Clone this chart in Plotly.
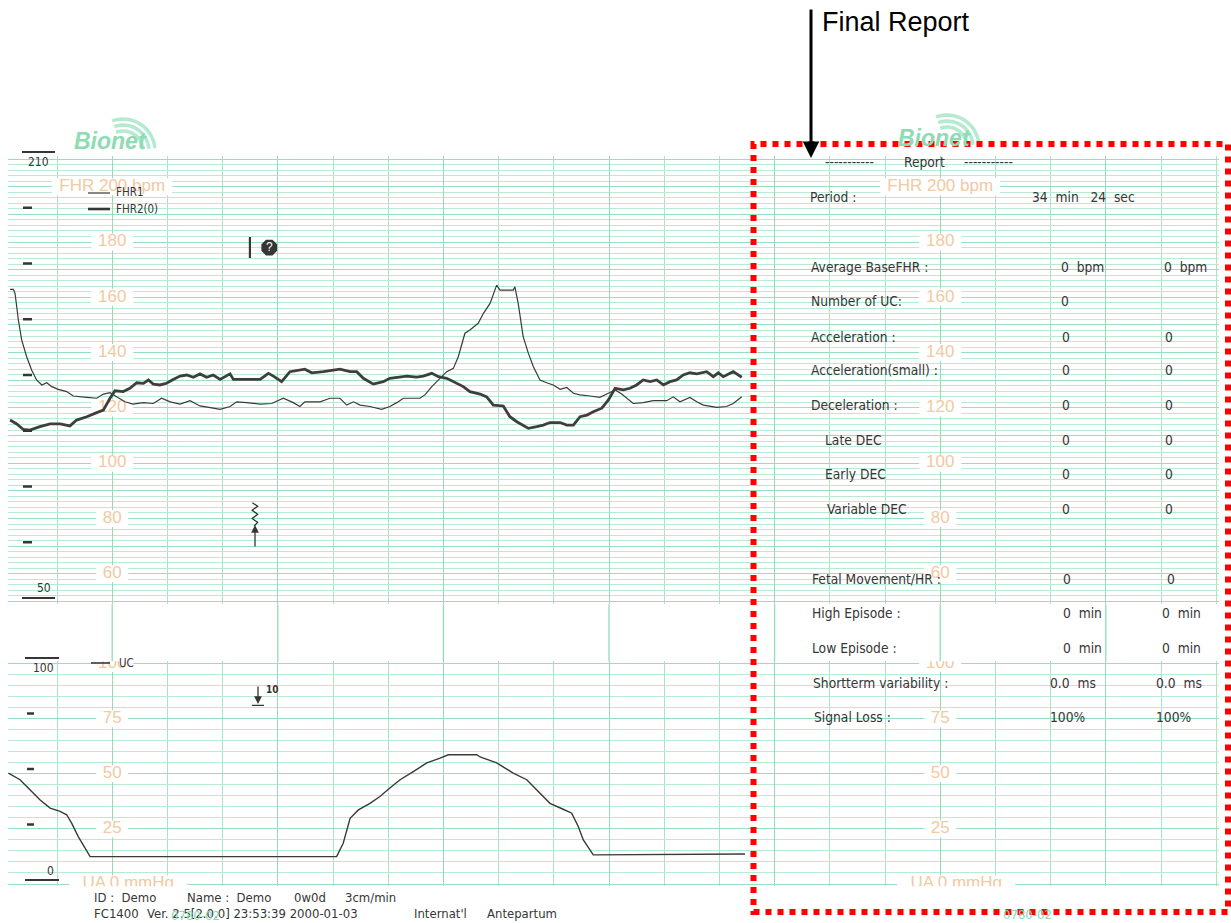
import math
import plotly.graph_objects as go

W, H = 1231, 923

# ---------------- data read off the strip ----------------
# time in seconds (1 small vertical division = 20 s at 3 cm/min), values on the paper scale
fhr1_time = [3.0, 4.2, 4.8, 6.0, 7.2, 9.0, 10.8, 12.6, 14.5, 16.3,
             18.1, 20.5, 23.5, 25.9, 30.8, 34.4, 36.8, 39.2, 41.6, 44.6,
             47.6, 51.3, 54.9, 57.9, 61.0, 64.6, 68.2, 71.8, 76.6, 79.1,
             82.7, 85.1, 88.7, 93.6, 97.8, 102.0, 105.6, 108.0, 109.8, 115.3,
             118.9, 122.5, 125.0, 127.4, 129.8, 133.4, 137.6, 140.6, 143.1, 145.5,
             151.5, 153.3, 155.8, 158.8, 161.2, 163.6, 165.4, 167.8, 169.6, 172.6,
             174.5, 176.9, 179.3, 180.5, 185.3, 185.9, 187.1, 188.9, 190.8, 192.6,
             195.0, 197.4, 199.8, 202.3, 204.7, 207.1, 209.5, 213.1, 216.7, 219.2,
             222.2, 224.6, 227.0, 228.8, 232.4, 236.0, 240.9, 243.3, 245.7, 249.3,
             251.8, 254.2, 259.0, 262.6, 265.0, 268.1]
fhr1_bpm = [162.9, 162.9, 161.4, 151.8, 144.6, 138.5, 133.7, 130.1, 128.3, 129.1,
            127.7, 126.7, 125.9, 124.3, 123.8, 123.5, 125.0, 125.5, 124.0, 122.2,
            121.4, 121.9, 121.6, 123.5, 122.2, 121.4, 122.6, 120.7, 119.9, 119.5,
            120.5, 122.2, 121.9, 121.4, 121.6, 123.5, 121.9, 120.5, 122.2, 122.2,
            123.5, 123.5, 121.0, 122.2, 121.0, 120.5, 119.5, 120.5, 121.9, 123.5,
            123.5, 124.7, 127.7, 130.7, 133.1, 134.3, 138.5, 147.0, 148.2, 150.6,
            154.2, 157.8, 164.4, 162.6, 162.6, 163.8, 157.8, 145.8, 139.7, 134.9,
            130.1, 129.1, 128.3, 126.7, 127.4, 125.3, 124.7, 124.3, 123.8, 125.0,
            126.5, 125.0, 123.1, 121.6, 121.9, 122.6, 122.6, 124.0, 122.2, 123.8,
            122.2, 121.0, 120.2, 120.5, 121.6, 124.0]

fhr2_time = [3.0, 5.4, 7.8, 10.2, 13.8, 17.5, 21.1, 24.7, 27.1, 30.8,
             34.4, 36.8, 39.2, 41.0, 44.0, 46.4, 48.9, 51.3, 53.1, 54.9,
             57.3, 59.7, 62.1, 64.6, 67.0, 69.4, 71.8, 74.2, 76.6, 79.1,
             82.7, 83.9, 93.6, 96.6, 98.4, 101.4, 104.4, 109.8, 112.3, 116.5,
             122.5, 126.2, 128.6, 131.0, 134.6, 138.2, 140.6, 144.9, 146.7, 150.3,
             152.7, 155.8, 158.2, 161.2, 163.6, 167.2, 169.6, 173.3, 175.7, 178.1,
             181.7, 184.1, 186.6, 189.0, 190.8, 193.8, 196.2, 198.6, 202.3, 204.7,
             207.1, 209.5, 212.0, 214.3, 217.4, 219.8, 222.2, 225.2, 227.6, 230.0,
             232.4, 234.9, 237.3, 239.7, 242.1, 244.5, 246.9, 249.3, 251.8, 255.4,
             257.8, 259.6, 261.4, 265.0, 268.1]
fhr2_bpm = [115.6, 114.2, 112.2, 112.0, 113.2, 114.2, 114.2, 113.5, 115.6, 116.8,
            118.3, 119.2, 123.5, 126.2, 125.9, 127.1, 129.1, 128.9, 130.1, 128.6,
            128.3, 128.9, 130.3, 131.5, 131.9, 131.1, 132.3, 131.1, 131.9, 130.3,
            132.3, 130.3, 130.3, 132.5, 131.5, 129.5, 133.1, 134.0, 132.7, 133.1,
            134.0, 133.1, 133.1, 130.7, 128.6, 129.5, 130.7, 131.1, 131.5, 131.1,
            131.5, 132.5, 131.3, 130.7, 129.5, 127.7, 125.9, 125.0, 124.0, 121.0,
            120.7, 116.8, 115.0, 113.8, 112.6, 113.2, 113.8, 114.7, 114.7, 113.8,
            113.8, 116.8, 117.4, 118.6, 119.9, 122.9, 127.1, 126.5, 127.1, 128.3,
            130.1, 129.5, 130.1, 128.3, 129.5, 130.1, 131.9, 132.7, 132.3, 133.1,
            131.3, 132.7, 131.3, 133.1, 131.1]

uc_time = [2.4, 6.6, 10.2, 13.8, 17.5, 21.1, 23.5, 25.3, 27.7, 30.1,
           32.0, 121.3, 123.7, 126.2, 129.2, 133.4, 137.0, 140.6, 144.3, 149.1,
           154.0, 158.8, 161.8, 172.1, 173.3, 179.3, 185.3, 190.2, 193.8, 198.6,
           203.4, 206.5, 208.9, 210.7, 214.3, 269.3]
uc_mmhg = [50.3, 47.3, 42.7, 38.2, 34.4, 32.9, 31.4, 27.6, 21.5, 16.2,
           12.4, 12.4, 18.5, 29.8, 33.6, 36.6, 39.7, 43.5, 47.3, 51.0,
           54.9, 57.1, 58.6, 58.6, 57.6, 54.9, 50.3, 47.3, 42.7, 36.6,
           33.9, 32.1, 26.0, 20.0, 13.2, 13.6]

assert len(fhr1_time) == len(fhr1_bpm)
assert len(fhr2_time) == len(fhr2_bpm)
assert len(uc_time) == len(uc_mmhg)

event_time = [91.7]                 # event marks printed on the strip (s)
event_fhr_level = [178.0]           # level of the '?' mark
event_uc_label = ["10"]

fhr_scale_labels = [180, 160, 140, 120, 100, 80, 60]
fhr_scale_top = "FHR 200 bpm"
uc_scale_labels = [100, 75, 50, 25]
uc_scale_bottom = "UA 0 mmHg"
scale_label_times = [40, 340]
fhr_printer_ticks = [210, 190, 170, 150, 130, 110, 90, 70, 50]
uc_printer_ticks = [100, 75, 50, 25, 0]

report_labels = ["Period :", "Average BaseFHR :", "Number of UC:", "Acceleration :",
                 "Acceleration(small) :", "Deceleration :", "Late DEC", "Early DEC",
                 "Variable DEC", "Fetal Movement/HR :", "High Episode :", "Low Episode :",
                 "Shortterm variability :", "Signal Loss :"]
NB = "\u00a0"
report_col1 = ["34" + NB * 2 + "min" + NB * 3 + "24" + NB * 2 + "sec", "0" + NB * 2 + "bpm", "0", "0",
               "0", "0", "0", "0", "0", "0", "0" + NB * 2 + "min", "0" + NB * 2 + "min",
               "0.0" + NB * 2 + "ms", "100%"]
report_col2 = ["", "0" + NB * 2 + "bpm", "", "0", "0", "0", "0", "0", "0", "0",
               "0" + NB * 2 + "min", "0" + NB * 2 + "min", "0.0" + NB * 2 + "ms", "100%"]

footer_line1 = ["ID :" + NB * 2 + "Demo", "Name :" + NB * 2 + "Demo", "0w0d", "3cm/min"]
footer_line2 = ["FC1400", "Ver. 2.5[2.0.0] 23:53:39 2000-01-03", "Internat'l", "Antepartum"]

# ---------------- layout geometry (pixels of the page) ----------------
X0_PX, PX_PER_S = 1.8, 2.76          # t = 0 s position, px per second
FHR_REF_PY, PX_PER_BPM = 242.0, 2.765  # 180 bpm line
UC_ZERO_PY, PX_PER_MM = 884.0, 2.205


def fx(px):
    return px / W


def fy(py):
    return 1 - py / H


def t_of(px):
    return (px - X0_PX) / PX_PER_S


def py_bpm(b):
    return FHR_REF_PY - (b - 180) * PX_PER_BPM


def py_mm(m):
    return UC_ZERO_PY - m * PX_PER_MM


GRID_MINOR = "#b8ebd2"
GRID_MAJOR = "#98dfbd"
VGRID_MINOR = "#a8e5c7"
VGRID_MAJOR = "#92dcb8"
PEACH = "#f1c9a2"
INK = "#363636"
NARROW = "DejaVu Sans Condensed, Liberation Sans Narrow, sans-serif"
ARIAL = "Liberation Sans, Arial, sans-serif"
REP = 13.7

fig = go.Figure()

# ---------- preprinted scale labels (text traces under the recorded traces) ----------
lx, ly, lt = [], [], []
for t in scale_label_times:
    lx.append(t); ly.append(200); lt.append(fhr_scale_top)
    for v in fhr_scale_labels:
        lx.append(t); ly.append(v); lt.append(str(v))
fig.add_trace(go.Scatter(x=lx, y=ly, text=lt, mode="text", xaxis="x", yaxis="y",
                         textfont=dict(family=ARIAL, size=17, color=PEACH),
                         textposition="middle center", hoverinfo="skip"))
ux, uy, utx = [], [], []
UA_SHIFT = 16 / PX_PER_S
for t in scale_label_times:
    for v in uc_scale_labels:
        ux.append(t); uy.append(v); utx.append(str(v))
    ux.append(t + UA_SHIFT); uy.append(0); utx.append(uc_scale_bottom)
fig.add_trace(go.Scatter(x=ux, y=uy, text=utx, mode="text", xaxis="x", yaxis="y2",
                         textfont=dict(family=ARIAL, size=17, color=PEACH),
                         textposition="middle center", hoverinfo="skip"))

# ---------- recorded traces ----------
fig.add_trace(go.Scatter(x=fhr1_time, y=fhr1_bpm, mode="lines", xaxis="x", yaxis="y",
                         line=dict(color="#3a3a3a", width=1.2), name="FHR1"))
fig.add_trace(go.Scatter(x=fhr2_time, y=fhr2_bpm, mode="lines", xaxis="x", yaxis="y",
                         line=dict(color="#3e3e3e", width=2.8), name="FHR2(0)"))
fig.add_trace(go.Scatter(x=uc_time, y=uc_mmhg, mode="lines", xaxis="x", yaxis="y2",
                         line=dict(color="#3a3a3a", width=1.4), name="UC"))

# '?' event mark
q_t = [t + 5.2 for t in event_time]
bar_t = [t - 1.8 for t in event_time]
fig.add_trace(go.Scatter(x=bar_t, y=event_fhr_level, mode="markers", xaxis="x", yaxis="y",
                         marker=dict(symbol="line-ns-open", size=15, color=INK,
                                     line=dict(width=2.2, color=INK))))
fig.add_trace(go.Scatter(x=q_t, y=event_fhr_level, mode="markers+text", xaxis="x", yaxis="y",
                         text=["?"] * len(q_t), textposition="middle center",
                         textfont=dict(family=ARIAL, size=12, color="white"),
                         marker=dict(symbol="octagon", size=17, color=INK)))

shapes = []
# white boxes behind the preprinted labels
for t in scale_label_times:
    items = [(200, fhr_scale_top, 60, t)] + [(v, str(v), 21 if v >= 100 else 16, t) for v in fhr_scale_labels]
    for v, s, hw, tc in items:
        shapes.append(dict(type="rect", xref="x", yref="y", layer="between",
                           x0=tc - hw / PX_PER_S, x1=tc + hw / PX_PER_S,
                           y0=v - 8.5 / PX_PER_BPM, y1=v + 8.5 / PX_PER_BPM,
                           fillcolor="white", line=dict(width=0)))
    items = [(v, 21 if v >= 100 else 16, t) for v in uc_scale_labels] + [(0, 59, t + UA_SHIFT)]
    for v, hw, tc in items:
        shapes.append(dict(type="rect", xref="x", yref="y2", layer="between",
                           x0=tc - hw / PX_PER_S, x1=tc + hw / PX_PER_S,
                           y0=v - 8.5 / PX_PER_MM, y1=v + 8.5 / PX_PER_MM,
                           fillcolor="white", line=dict(width=0)))

# minute lines crossing the gap between the two panels
for k in range(7):
    t = 40 + 60 * k
    px = X0_PX + t * PX_PER_S
    shapes.append(dict(type="line", xref="paper", yref="paper", x0=fx(px), x1=fx(px),
                       y0=fy(py_mm(101)), y1=fy(py_bpm(49)), line=dict(color=VGRID_MAJOR, width=1.3),
                       layer="below"))

# printer scale marks (FHR)
for v in fhr_printer_ticks:
    py = 152 + (210 - v) * 2.7875
    if v in (210, 50):
        shapes.append(dict(type="line", xref="paper", yref="paper", x0=fx(22), x1=fx(55),
                           y0=fy(py), y1=fy(py), line=dict(color=INK, width=2)))
    else:
        shapes.append(dict(type="line", xref="paper", yref="paper", x0=fx(23), x1=fx(32),
                           y0=fy(py), y1=fy(py), line=dict(color=INK, width=2.5)))
# printer scale marks (UC)
for v in uc_printer_ticks:
    py = 658 + (100 - v) * 2.22
    if v in (100, 0):
        shapes.append(dict(type="line", xref="paper", yref="paper", x0=fx(25), x1=fx(59),
                           y0=fy(py), y1=fy(py), line=dict(color=INK, width=2)))
    else:
        shapes.append(dict(type="line", xref="paper", yref="paper", x0=fx(27), x1=fx(34),
                           y0=fy(py), y1=fy(py), line=dict(color=INK, width=2.5)))

# legend strokes
shapes.append(dict(type="line", xref="paper", yref="paper", x0=fx(88), x1=fx(110), y0=fy(193), y1=fy(193),
                   line=dict(color=INK, width=1.2)))
shapes.append(dict(type="line", xref="paper", yref="paper", x0=fx(88), x1=fx(110), y0=fy(209), y1=fy(209),
                   line=dict(color=INK, width=2.6)))
shapes.append(dict(type="line", xref="paper", yref="paper", x0=fx(91), x1=fx(110), y0=fy(663), y1=fy(663),
                   line=dict(color=INK, width=1.6)))

# fetal movement style mark (zigzag) above an upward arrow
et = event_time[0]
zz_x = [et - 0.9, et + 1.0, et - 1.0, et + 1.0, et - 1.0, et + 1.0, et - 0.3]
zz_y = [85.7, 84.4, 83.0, 81.5, 80.0, 78.6, 77.3]
path = "M " + " L ".join(f"{a},{b}" for a, b in zip(zz_x, zz_y))
shapes.append(dict(type="path", xref="x", yref="y", path=path, line=dict(color=INK, width=1.3)))

# UC event: down arrow with a bar
ut = event_time[0] + 1.1
shapes.append(dict(type="line", xref="x", yref="y2", x0=ut - 2.2, x1=ut + 2.2, y0=81.0, y1=81.0,
                   line=dict(color=INK, width=1.3)))


# Bionet logo arcs
def arc_path(cx, cy, r, a0, a1, n=16):
    pts = []
    for i in range(n + 1):
        a = math.radians(a0 + (a1 - a0) * i / n)
        pts.append((fx(cx + r * math.cos(a)), fy(cy - r * math.sin(a))))
    return "M " + " L ".join(f"{x:.5f},{y:.5f}" for x, y in pts)


LOGO = "#b3ead0"
for cx, cy in [(123, 151), (947, 147)]:
    for r in (20, 26, 32):
        shapes.append(dict(type="path", xref="paper", yref="paper", path=arc_path(cx, cy, r, 110, 5),
                           line=dict(color=LOGO, width=3.5)))

# red dotted frame
shapes.append(dict(type="rect", xref="paper", yref="paper", x0=fx(753.5), x1=fx(1228), y0=fy(912), y1=fy(144),
                   line=dict(color="#ff0000", width=6, dash="6px,6px"), fillcolor="rgba(0,0,0,0)"))

annotations = []


def ann(px, py, text, size, color=INK, family=NARROW, xanchor="left", **kw):
    annotations.append(dict(x=fx(px), y=fy(py), xref="paper", yref="paper", text=text, showarrow=False,
                            xanchor=xanchor, yanchor="middle", font=dict(family=family, size=size, color=color), **kw))


# logo text
ann(110, 141, "<b><i>Bionet</i></b>", 23, color="#8edbb4", family=ARIAL, xanchor="center")
ann(934, 138, "<b><i>Bionet</i></b>", 23, color="#8edbb4", family=ARIAL, xanchor="center")

# printer scale numbers
ann(38, 162, "210", 12, xanchor="center")
ann(44, 588, "50", 12, xanchor="center")
ann(43, 668, "100", 12, xanchor="center")
ann(50, 871, "0", 12, xanchor="center")

# legend texts
ann(114, 192, "FHR1", 11.5)
ann(114, 209, "FHR2(0)", 11.5)
ann(117, 663, "UC", 11.5)
ann(264, 689, "<b>" + event_uc_label[0] + "</b>", 10)

# arrows of the event marks
annotations.append(dict(x=fx(255), y=fy(525), xref="paper", yref="paper", text="", showarrow=True,
                        ax=0, ay=23, arrowhead=2, arrowsize=1.2, arrowwidth=1.3, arrowcolor=INK))
annotations.append(dict(x=fx(258), y=fy(704), xref="paper", yref="paper", text="", showarrow=True,
                        ax=0, ay=-19, arrowhead=2, arrowsize=1.2, arrowwidth=1.3, arrowcolor=INK))

# footer
for px, s in zip([92, 185, 292, 343], footer_line1):
    ann(px, 897, s, 13)
for px, s in zip([92, 145, 412, 485], footer_line2):
    ann(px, 913, s, 13)
ann(195, 915, "0780-02", 13, color="#86d9b0", xanchor="center")
ann(1027, 914, "0780-02", 13, color="#86d9b0", xanchor="center")

# report
ann(823, 162, "-" * 11, REP)
ann(902, 162, "Report", REP)
ann(962, 162, "-" * 11, REP)
rep_row_y = [197, 267, 301, 337, 370, 405, 440, 474, 509, 579, 613, 648, 683, 717]
rep_label_x = [808, 809, 809, 809, 809, 809, 823, 823, 825, 810, 810, 810, 811, 812]
rep_c1_x = [1030, 1059, 1059, 1060, 1060, 1060, 1060, 1060, 1060, 1061, 1061, 1061, 1048, 1048]
rep_c2_x = [1162, 1162, 1163, 1163, 1163, 1163, 1163, 1163, 1163, 1165, 1160, 1160, 1154, 1154]
for i, lab in enumerate(report_labels):
    ann(rep_label_x[i], rep_row_y[i], lab, REP)
    ann(rep_c1_x[i], rep_row_y[i], report_col1[i], REP)
    if report_col2[i]:
        ann(rep_c2_x[i], rep_row_y[i], report_col2[i], REP)

# Final Report callout
ann(820, 22, "Final Report", 27, color="black", family=ARIAL)
annotations.append(dict(x=fx(811), y=fy(158), xref="paper", yref="paper", text="", showarrow=True,
                        ax=0, ay=-150, arrowhead=2, arrowsize=1.1, arrowwidth=3, arrowcolor="black"))

fig.update_layout(
    width=W, height=H, margin=dict(l=0, r=0, t=0, b=0),
    paper_bgcolor="white", plot_bgcolor="white", showlegend=False,
    xaxis=dict(domain=[fx(8), fx(1219)], range=[t_of(8), t_of(1219)], anchor="y",
               showticklabels=False, ticks="", zeroline=False, showline=False,
               tick0=40, dtick=60, showgrid=True, gridcolor=VGRID_MAJOR, gridwidth=1.3,
               minor=dict(tick0=40, dtick=20, showgrid=True, gridcolor=VGRID_MINOR, gridwidth=1)),
    yaxis=dict(domain=[fy(py_bpm(49)), fy(py_bpm(211))], range=[49, 211], anchor="x",
               showticklabels=False, ticks="", zeroline=False, showline=False,
               tick0=0, dtick=10, showgrid=True, gridcolor=GRID_MAJOR, gridwidth=1,
               minor=dict(dtick=2, showgrid=True, gridcolor=GRID_MINOR, gridwidth=1)),
    yaxis2=dict(domain=[fy(py_mm(-1)), fy(py_mm(101))], range=[-1, 101], anchor="x",
                showticklabels=False, ticks="", zeroline=False, showline=False,
                tick0=0, dtick=25, showgrid=True, gridcolor=GRID_MAJOR, gridwidth=1,
                minor=dict(dtick=5, showgrid=True, gridcolor=GRID_MINOR, gridwidth=1)),
    shapes=shapes, annotations=annotations,
)

fig.write_html("out.html", config={"displayModeBar": False},
               post_script="document.body.style.margin='0';document.documentElement.style.overflow='hidden';")
